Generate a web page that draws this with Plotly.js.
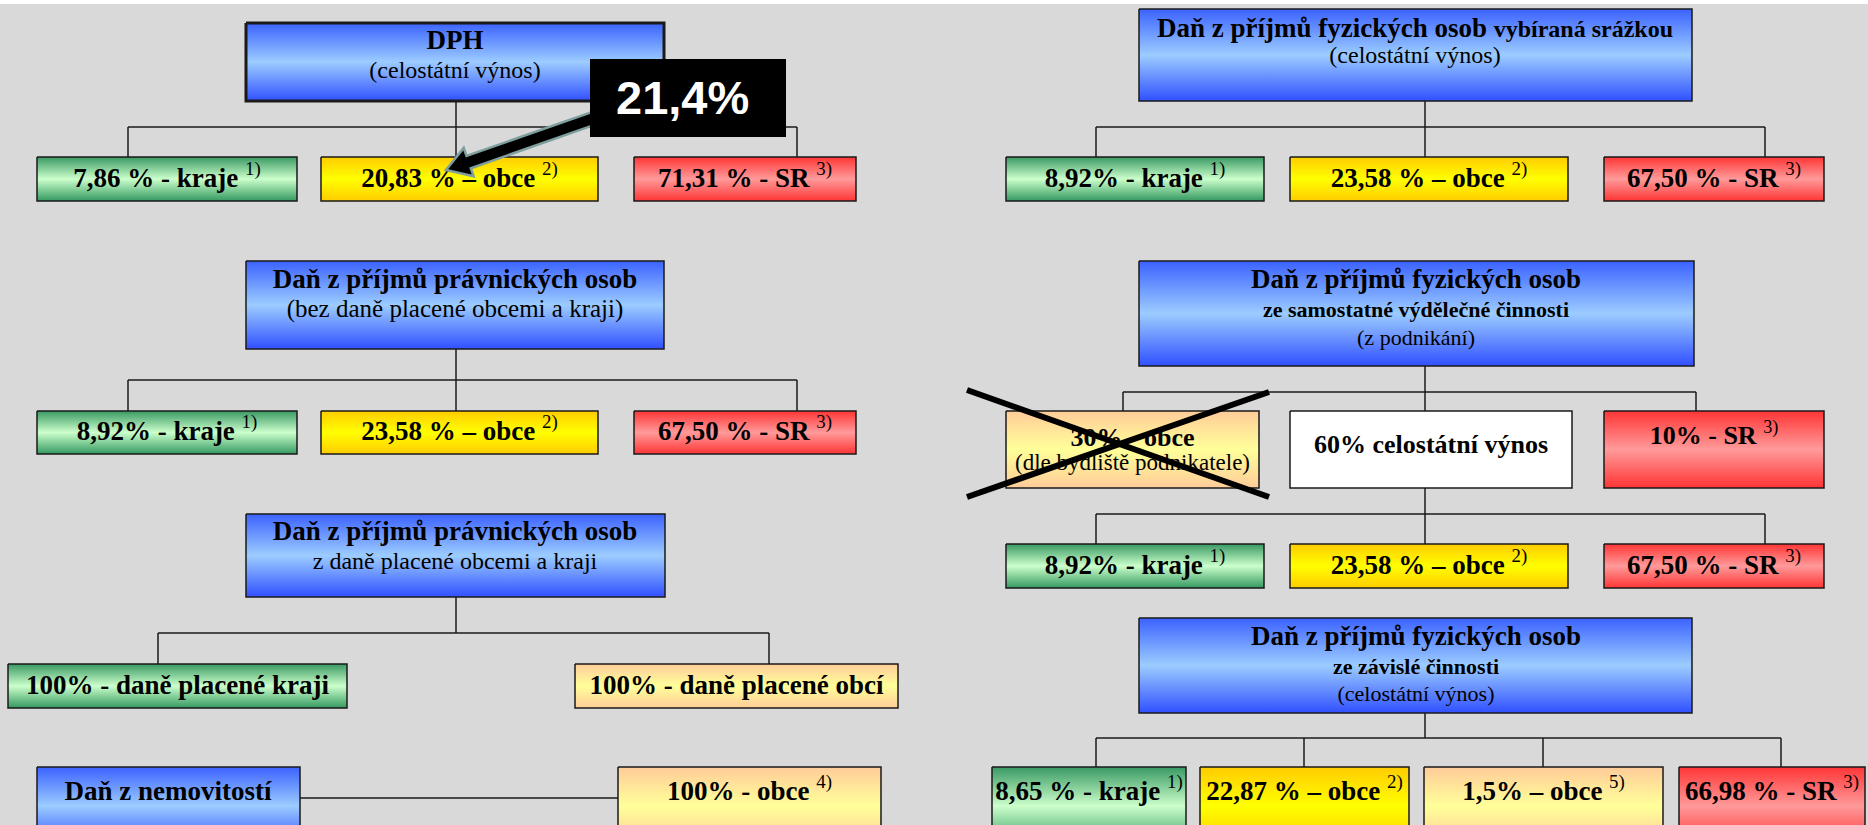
<!DOCTYPE html>
<html>
<head>
<meta charset="utf-8">
<script src="https://cdn.plot.ly/plotly-3.0.1.min.js"></script>
<style>html,body{margin:0;padding:0;background:#d9d9d9;}#chart{width:1868px;height:825px;}</style>
</head>
<body>
<div id="chart"></div>
<script>
// ---------- DATA (texts and values) ----------
const taxTitles = ['DPH', 'Daň z příjmů právnických osob', 'Daň z příjmů právnických osob', 'Daň z nemovitostí',
                   'Daň z příjmů fyzických osob', 'Daň z příjmů fyzických osob', 'Daň z příjmů fyzických osob'];
const taxSubtitles = ['(celostátní výnos)', '(bez daně placené obcemi a kraji)', 'z daně placené obcemi a kraji', '',
                      '(celostátní výnos)', 'ze samostatné výdělečné činnosti', 'ze závislé činnosti'];
const taxTitleSuffix = ['', '', '', '', 'vybíraná srážkou', '', ''];
const taxThirdLines = ['', '', '', '', '', '(z podnikání)', '(celostátní výnos)'];

const dphShares = ['7,86 % - kraje', '20,83 % – obce', '71,31 % - SR'];
const dphNotes = ['1)', '2)', '3)'];
const ppoShares = ['8,92% - kraje', '23,58 % – obce', '67,50 % - SR'];
const ppoNotes = ['1)', '2)', '3)'];
const ppoOwnShares = ['100% - daně placené kraji', '100% - daně placené obcí'];
const nemovitostShares = ['100% - obce'];
const nemovitostNotes = ['4)'];
const srazkaShares = ['8,92% - kraje', '23,58 % – obce', '67,50 % - SR'];
const srazkaNotes = ['1)', '2)', '3)'];
const podnikaniOldShares = ['30% - obce', '60% celostátní výnos', '10% - SR'];
const podnikaniOldSub = ['(dle bydliště podnikatele)', '', ''];
const podnikaniOldNotes = ['', '', '3)'];
const podnikaniShares = ['8,92% - kraje', '23,58 % – obce', '67,50 % - SR'];
const podnikaniNotes = ['1)', '2)', '3)'];
const zavisleShares = ['8,65 % - kraje', '22,87 % – obce', '1,5% – obce', '66,98 % - SR'];
const zavisleNotes = ['1)', '2)', '5)', '3)'];
const highlightValue = '21,4%';

// ---------- STYLES ----------
const SERIF = 'Liberation Serif, Times New Roman, serif';
const scales = {
  blue:   [[0,'#3b62ff'],[0.5,'#9cccff'],[1,'#3050ff']],
  green:  [[0,'#3a9963'],[0.5,'#ccffcc'],[1,'#339960']],
  yellow: [[0,'#ffcc00'],[0.5,'#ffff00'],[1,'#ffcc00']],
  red:    [[0,'#ff3535'],[0.5,'#ff9a9a'],[1,'#ff3535']],
  orange: [[0,'#ffcc99'],[0.5,'#ffff99'],[1,'#ffcc99']]
};
const traces = [];
const shapes = [];

function box(x0, x1, y0, y1, kind, bw) {
  const t = {type:'scatter', x:[x0,x1,x1,x0,x0], y:[y0,y0,y1,y1,y0], mode:'lines', fill:'toself',
    line:{color:'#1a1a1a', width: bw || 1.5}, hoverinfo:'skip', showlegend:false};
  if (kind === 'white') t.fillcolor = '#ffffff';
  else t.fillgradient = {type:'vertical', colorscale: scales[kind], start:y0, stop:y1};
  traces.push(t);
}
function txt(x, y, s, size, bold) {
  traces.push({type:'scatter', mode:'text', x:[x], y:[y], text:[bold ? '<b>'+s+'</b>' : s],
    textposition:'middle center', textfont:{family:SERIF, size:size, color:'#000'},
    hoverinfo:'skip', showlegend:false, cliponaxis:false});
}
function note(n) { return n ? ' <sup><span style="font-weight:normal">'+n+'</span></sup>' : ''; }
function line(x0, y0, x1, y1, w, layer) {
  shapes.push({type:'line', xref:'x', yref:'y', x0:x0, y0:y0, x1:x1, y1:y1,
    line:{color: w > 3 ? '#000' : '#1a1a1a', width:w || 1.5}, layer: layer || 'below'});
}
function tree(cx, yTop, yBar, yBot, xs) {
  line(cx, yTop, cx, yBar);
  line(Math.min(...xs), yBar, Math.max(...xs), yBar);
  xs.forEach(x => line(x, yBar, x, yBot + 2));
}
const ROWFONT = 27;
function row(xs, y0, y1, kinds, labels, notes, ty) {
  xs.forEach((r, i) => {
    box(r[0], r[1], y0, y1, kinds[i]);
    txt((r[0]+r[1])/2, ty, labels[i] + note(notes[i]), ROWFONT, true);
  });
}

// white strip at top
shapes.push({type:'rect', xref:'x', yref:'y', x0:0, x1:1868, y0:0, y1:4, fillcolor:'#ffffff', line:{width:0}, layer:'below'});

// ---------- LEFT COLUMN ----------
const LX = [[37,297],[321,598],[634,856]];
// DPH
tree(456, 101, 127, 157, [128, 456, 797]);
box(246, 664, 23, 101, 'blue', 3);
txt(455, 42, taxTitles[0], 27, true);
txt(455, 72, taxSubtitles[0], 24, false);
row(LX, 157, 201, ['green','yellow','red'], dphShares, dphNotes, 180);

// DPPO
tree(456, 349, 380, 411, [128, 456, 797]);
box(246, 664, 261, 349, 'blue');
txt(455, 281, taxTitles[1], 27, true);
txt(455, 311, taxSubtitles[1], 25, false);
row(LX, 411, 454, ['green','yellow','red'], ppoShares, ppoNotes, 433);

// DPPO placená obcemi a kraji
tree(456, 597, 633, 664, [158, 769]);
box(246, 665, 514, 597, 'blue');
txt(455, 533, taxTitles[2], 27, true);
txt(455, 563, taxSubtitles[2], 24, false);
row([[8,347],[575,898]], 664, 708, ['green','orange'], ppoOwnShares, ['',''], 687);

// Daň z nemovitostí
line(300, 798, 618, 798);
box(37, 300, 767, 845, 'blue');
txt(168, 793, taxTitles[3], 27, true);
row([[618,881]], 767, 845, ['orange'], nemovitostShares, nemovitostNotes, 793);

// ---------- RIGHT COLUMN ----------
const RX = [[1006,1264],[1290,1568],[1604,1824]];
// srážková daň
tree(1425, 101, 127, 157, [1096, 1425, 1765]);
box(1139, 1692, 9, 101, 'blue');
txt(1415, 30, '<b>' + taxTitles[4] + ' <span style="font-size:24px">' + taxTitleSuffix[4] + '</span></b>', 27, false);
txt(1415, 57, taxSubtitles[4], 24, false);
row(RX, 157, 201, ['green','yellow','red'], srazkaShares, srazkaNotes, 180);

// podnikání
tree(1425, 366, 392, 411, [1123, 1425, 1696]);
box(1139, 1694, 261, 366, 'blue');
txt(1416, 281, taxTitles[5], 27, true);
txt(1416, 311, taxSubtitles[5], 22, true);
txt(1416, 339, taxThirdLines[5], 22, false);
const OX = [[1006,1259],[1290,1572],[1604,1824]];
const oldKinds = ['orange','white','red'];
const oldY = [439, 446, 437];
OX.forEach((r, i) => {
  box(r[0], r[1], 411, 488, oldKinds[i]);
  txt((r[0]+r[1])/2, oldY[i], podnikaniOldShares[i] + note(podnikaniOldNotes[i]), 26, true);
  if (podnikaniOldSub[i]) txt((r[0]+r[1])/2, 464, podnikaniOldSub[i], 23, false);
});
// cross over the abolished share
line(967, 390, 1269, 497, 6, 'above');
line(1269, 392, 967, 497, 6, 'above');
tree(1425, 488, 514, 544, [1096, 1425, 1765]);
row(RX, 544, 588, ['green','yellow','red'], podnikaniShares, podnikaniNotes, 567);

// závislá činnost
tree(1425, 713, 738, 767, [1096, 1304, 1543, 1781]);
box(1139, 1692, 618, 713, 'blue');
txt(1416, 638, taxTitles[6], 27, true);
txt(1416, 668, taxSubtitles[6], 22, true);
txt(1416, 695, taxThirdLines[6], 22, false);
row([[992,1186],[1200,1409],[1424,1663],[1679,1865]], 767, 845,
    ['green','yellow','orange','red'], zavisleShares, zavisleNotes, 793);

// ---------- callout arrow + black label ----------
(function(){
  const T = [606, 114], P = [446, 170];
  const dx = P[0]-T[0], dy = P[1]-T[1], L = Math.hypot(dx, dy);
  const u = [dx/L, dy/L], n = [-u[1], u[0]];
  const w = 6.5, hw = 15, hl = 24;
  const H = [P[0]-u[0]*hl, P[1]-u[1]*hl];
  const pts = [
    [T[0]+n[0]*w, T[1]+n[1]*w], [H[0]+n[0]*w, H[1]+n[1]*w], [H[0]+n[0]*hw, H[1]+n[1]*hw], P,
    [H[0]-n[0]*hw, H[1]-n[1]*hw], [H[0]-n[0]*w, H[1]-n[1]*w], [T[0]-n[0]*w, T[1]-n[1]*w]];
  shapes.push({type:'path', xref:'x', yref:'y', layer:'above', fillcolor:'#000',
    line:{color:'#7f9e9e', width:2.5},
    path:'M' + pts.map(p => p[0].toFixed(1)+','+p[1].toFixed(1)).join(' L') + ' Z'});
  shapes.push({type:'rect', xref:'x', yref:'y', layer:'above', x0:590, x1:786, y0:59, y1:137,
    fillcolor:'#000', line:{width:0}});
})();

const layout = {
  width:1868, height:825,
  margin:{l:0, r:0, t:0, b:0, pad:0},
  paper_bgcolor:'#d9d9d9', plot_bgcolor:'#d9d9d9',
  xaxis:{range:[0,1868], visible:false, fixedrange:true},
  yaxis:{range:[825,0], visible:false, fixedrange:true},
  showlegend:false,
  shapes:shapes,
  annotations:[{xref:'x', yref:'y', x:682, y:97, text:'<b>'+highlightValue+'</b>', showarrow:false,
    font:{family:'Liberation Sans, Arial, sans-serif', size:47, color:'#fff'}}]
};
Plotly.newPlot('chart', traces, layout, {staticPlot:true, displayModeBar:false});
</script>
</body>
</html>
